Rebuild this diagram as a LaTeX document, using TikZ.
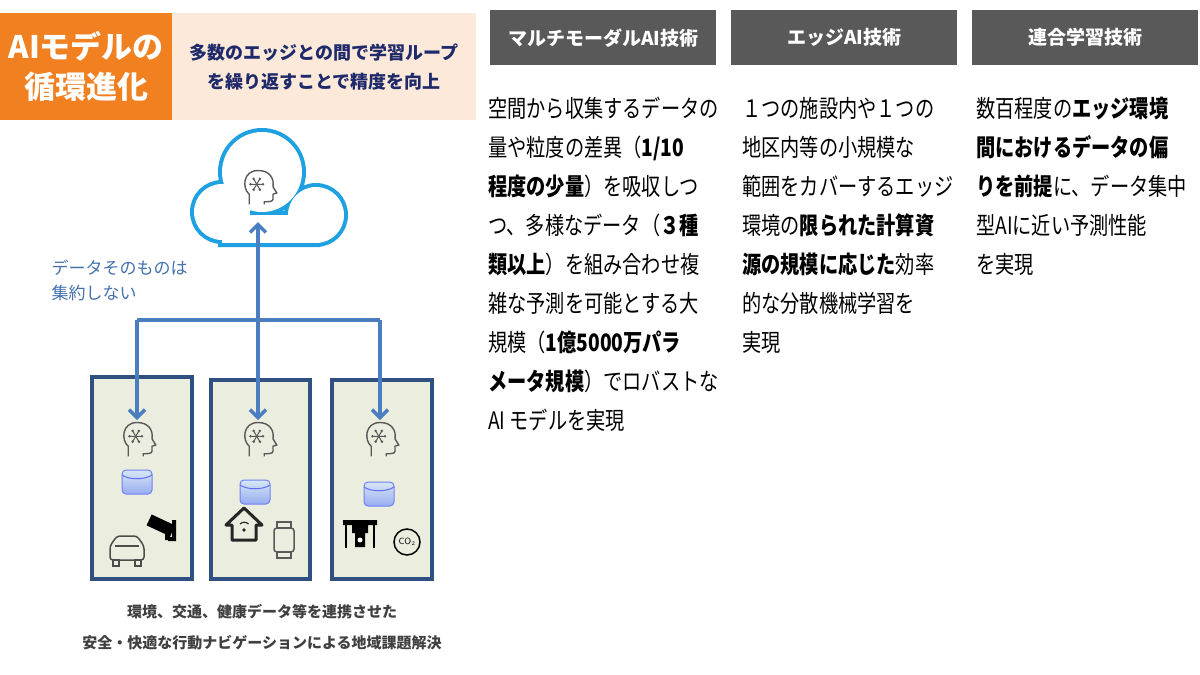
\documentclass[tikz,border=0pt]{standalone}
\usepackage{fontspec}
\newfontfamily\jp[FakeStretch=0.8]{Noto Sans CJK JP}
\newfontfamily\jpn{Noto Sans CJK JP}
\usetikzlibrary{arrows.meta}
\definecolor{orng}{HTML}{F08020}
\definecolor{peach}{HTML}{FCE9D9}
\definecolor{navy}{HTML}{1F2A6B}
\definecolor{cloudc}{HTML}{1FA0E0}
\definecolor{arr}{HTML}{4A7EC0}
\definecolor{boxf}{HTML}{EBEEDF}
\definecolor{boxd}{HTML}{2F5080}
\definecolor{hdr}{HTML}{595959}
\definecolor{cyl}{HTML}{BDD7EE}
\tikzset{
 hdrbox/.style={fill=hdr,minimum width=226pt,minimum height=55pt,text=white,font=\jpn\bfseries\fontsize{19}{22}\selectfont},
 body/.style={anchor=north west,align=left,text=black,font=\jp\fontsize{24}{39}\selectfont,inner sep=0pt},
 edge/.style={draw=boxd,line width=4pt,fill=boxf},
 link/.style={draw=arr,line width=3.5pt,-{Straight Barb[length=8pt,width=16pt,line width=3.5pt]}},
 headic/.pic={\begin{scope}[scale=1.25]\draw[line width=1.4pt,gray!70!black] (-7,13) -- (-7,5) .. controls (-13,0) and (-12,-14) .. (0,-14) .. controls (10,-14) and (13,-7) .. (12,-1) -- (15,4) -- (12,5) -- (12,9) .. controls (12,11) and (8,11) .. (5,11) -- (5,13);
  \foreach \a in {0,60,...,300}{\draw[gray!70!black,line width=1pt] (-1,-3) -- ++(\a:5) circle (0.6);}\end{scope}},
 cylic/.pic={\shade[top color=cyl!60,bottom color=cyl!80!blue,draw=cyl!60!blue,line width=1pt,rounded corners=4pt] (-15,-12) rectangle (15,12);
  \draw[cyl!50!blue,line width=1pt] (-15,-7) .. controls (-8,-2) and (8,-2) .. (15,-7);}
}
\begin{document}
\begin{tikzpicture}[x=1pt,y=-1pt]
\useasboundingbox (0,0) rectangle (1200,675);
% title
\node[fill=orng,minimum width=172pt,minimum height=107pt,anchor=north west,inner sep=0pt,align=center,text=white,font=\jpn\bfseries\fontsize{31}{40}\selectfont] (title) at (0,13) {AIモデルの\\循環進化};
\node[fill=peach,minimum width=304pt,minimum height=107pt,anchor=north west,inner sep=0pt,align=center,text=navy,font=\jpn\bfseries\fontsize{18}{29}\selectfont] (sub) at (172,13) {多数のエッジとの間で学習ループ\\を繰り返すことで精度を向上};
% cloud
\draw[cloudc,line width=8pt] (222,212) circle (28) (262,172) circle (40) (316,215) circle (28) (222,215) rectangle (316,243);
\fill[white] (222,212) circle (28);
\fill[white] (262,172) circle (40);
\fill[white] (316,215) circle (28);
\fill[white] (222,215) rectangle (316,243);
\coordinate (cloudbot) at (258,222);
\pic at (258,188) {headic};
% boxes
\node[edge,minimum width=100pt,minimum height=202pt,anchor=north west] (b1) at (90,375) {};
\node[edge,minimum width=99pt,minimum height=199pt,anchor=north west] (b2) at (209,378) {};
\node[edge,minimum width=100pt,minimum height=199pt,anchor=north west] (b3) at (330,378) {};
\coordinate (h1) at (137,420); \coordinate (h2) at (258,420); \coordinate (h3) at (380,420);
\coordinate (j1) at (137,320); \coordinate (j3) at (380,320);
\draw[arr,line width=3.5pt] (j1) -- (j3);
\draw[link] (j1) -- (h1);
\draw[link] (j3) -- (h3);
\draw[link] (258,330) -- (h2);
\draw[link] (258,330) -- (cloudbot);
\node[anchor=north west,align=left,text=arr!90!black,font=\jpn\fontsize{17}{25}\selectfont] (lbl) at (48,256) {データそのものは\\集約しない};
\foreach \x/\y in {137/440,258/440,380/440}{\pic at (\x,\y) {headic};}
\foreach \x/\y in {137/482,255/492,379/494}{\pic at (\x,\y) {cylic};}
% car
\draw[gray!60!black,line width=1.5pt,rounded corners=3pt] (110,560) -- (110,546) -- (117,536) -- (137,536) -- (144,546) -- (144,560) -- cycle;
\draw[gray!60!black,line width=1.2pt] (115,546) -- (139,546);
\draw[gray!60!black,line width=1.2pt] (113,560) rectangle (119,566) (135,560) rectangle (141,566);
% camera
\fill[black,rotate around={-25:(160,525)}] (148,519) rectangle (174,531);
\fill[black] (165,530) rectangle (170,540) (168,537) rectangle (176,541) (172,520) rectangle (176,541);
% house
\draw[black!85,line width=3pt,line join=round] (232,540) -- (232,525) -- (226,525) -- (244,508) -- (262,525) -- (256,525) -- (256,540) -- cycle;
\draw[black!85,line width=1.2pt] (240,524) arc (225:315:6);
\fill[black!85] (244,530) circle (1.8);
% watch
\draw[gray!70!black,line width=1.5pt,rounded corners=3pt] (274,528) rectangle (294,552);
\draw[gray!70!black,line width=1.2pt] (277,522) rectangle (291,528) (277,552) rectangle (291,558);
% drone
\fill[black] (343,520) rectangle (377,525) (352,525) rectangle (368,533) (355,533) rectangle (365,547);
\draw[black,line width=2pt] (346,523) -- (346,548) (374,523) -- (374,548);
\fill[white] (360,540) circle (2.5);
% co2
\draw[black,line width=1.5pt] (407,542) circle (13);
\node[font=\sffamily\fontsize{9}{10}\selectfont,inner sep=0pt] (co2) at (407,542) {CO$_2$};
% bottom text
\node[align=center,text=black!75,font=\jpn\bfseries\fontsize{15}{31}\selectfont] (bot) at (262,627) {環境、交通、健康データ等を連携させた\\安全・快適な行動ナビゲーションによる地域課題解決};
% right headers
\node[hdrbox,anchor=north west] (hA) at (490,10) {マルチモーダルAI技術};
\node[hdrbox,anchor=north west] (hB) at (731,10) {エッジAI技術};
\node[hdrbox,anchor=north west] (hC) at (972,10) {連合学習技術};
\node[body] (tA) at (488,97) {空間から収集するデータの\\量や粒度の差異（\textbf{1/10}\\\textbf{程度の少量}）を吸収しつ\\つ、多様なデータ（\textbf{３種}\\\textbf{類以上}）を組み合わせ複\\雑な予測を可能とする大\\規模（\textbf{1億5000万パラ}\\\textbf{メータ規模}）でロバストな\\AI モデルを実現};
\node[body] (tB) at (742,97) {１つの施設内や１つの\\地区内等の小規模な\\範囲をカバーするエッジ\\環境の\textbf{限られた計算資}\\\textbf{源の規模に応じた}効率\\的な分散機械学習を\\実現};
\node[body] (tC) at (976,97) {数百程度の\textbf{エッジ環境}\\\textbf{間におけるデータの偏}\\\textbf{りを前提}に、データ集中\\型AIに近い予測性能\\を実現};
\end{tikzpicture}
\end{document}
